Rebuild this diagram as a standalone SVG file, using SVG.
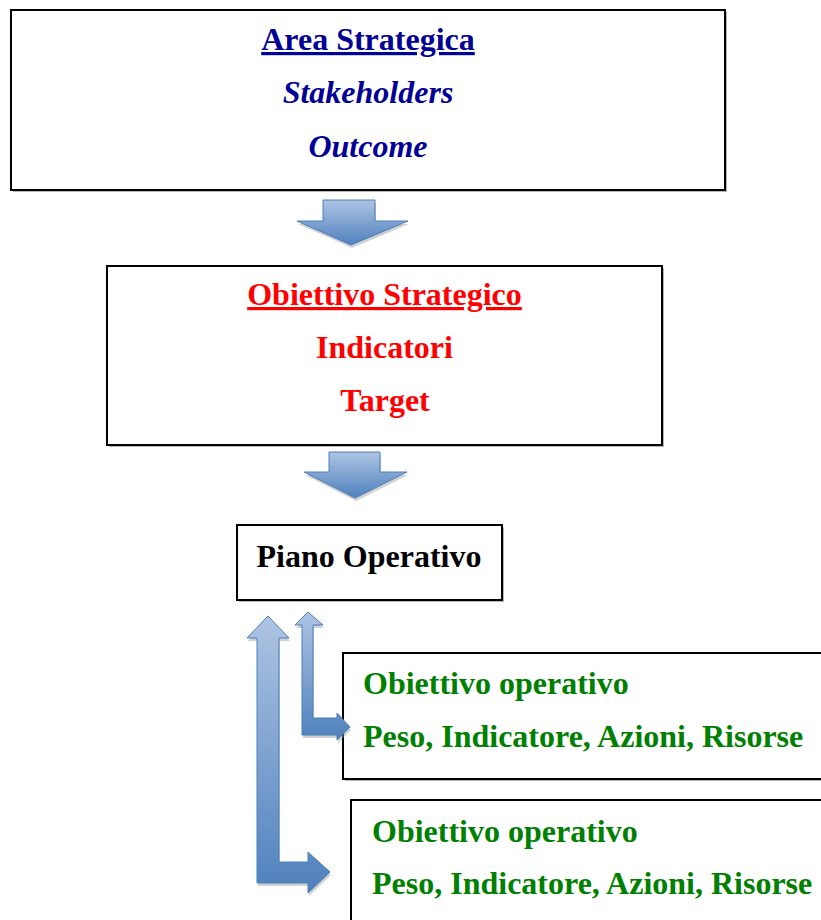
<svg xmlns="http://www.w3.org/2000/svg" width="821" height="920" viewBox="0 0 821 920">
<style>
.box{fill:#fff;stroke:#000;stroke-width:2}
.sh{fill:#b8b8b8}
.t{font-family:"Liberation Serif","Times New Roman",serif;font-weight:bold;font-size:32px;text-anchor:middle}
.tl{font-family:"Liberation Serif","Times New Roman",serif;font-weight:bold;font-size:32px}
.blue{fill:#000096}
.red{fill:#ff0000}
.green{fill:#008000}
.arr{stroke:#4a7ebb;stroke-width:1;stroke-linejoin:miter}
.ash{fill:#9a9a9a;opacity:0.45}
</style>
<defs>
<linearGradient id="g" x1="0" y1="0" x2="0" y2="1">
<stop offset="0" stop-color="#aec4e3"/>
<stop offset="1" stop-color="#4f81bd"/>
</linearGradient>
</defs>

<g id="area-strategica">
<rect class="sh" x="13" y="12" width="714" height="180"/>
<rect class="box" x="11" y="10" width="714" height="180"/>
<text class="t blue" x="368" y="50" text-decoration="underline">Area Strategica</text>
<text class="t blue" x="368" y="103" font-style="italic">Stakeholders</text>
<text class="t blue" x="368" y="157" font-style="italic">Outcome</text>
</g>

<g id="obiettivo-strategico">
<rect class="sh" x="109" y="268" width="555" height="179"/>
<rect class="box" x="107" y="266" width="555" height="179"/>
<text class="t red" x="384.5" y="305" text-decoration="underline">Obiettivo Strategico</text>
<text class="t red" x="384.5" y="358">Indicatori</text>
<text class="t red" x="385" y="411">Target</text>
</g>

<g id="piano-operativo">
<rect class="sh" x="239" y="527" width="265" height="75"/>
<rect class="box" x="237" y="525" width="265" height="75"/>
<text class="t" x="369" y="567" fill="#000">Piano Operativo</text>
</g>

<g id="obiettivo-operativo-1">
<rect class="sh" x="345" y="655" width="500" height="126"/>
<rect class="box" x="343" y="653" width="500" height="126"/>
<text class="tl green" x="363" y="694">Obiettivo operativo</text>
<text class="tl green" x="363" y="747">Peso, Indicatore, Azioni, Risorse</text>
</g>

<g id="obiettivo-operativo-2">
<rect class="sh" x="353" y="802" width="500" height="150"/>
<rect class="box" x="351" y="800" width="500" height="150"/>
<text class="tl green" x="372" y="842">Obiettivo operativo</text>
<text class="tl green" x="372" y="894">Peso, Indicatore, Azioni, Risorse</text>
</g>

<g id="connectors">
<g transform="translate(1,3)" class="ash">
<polygon points="323,200 375,200 375,221 408,221 351,245 297,221 323,221"/>
<polygon points="329,452 380,452 380,472 407,472 355,498 304,472 329,472"/>
<polygon points="308,612 323,625 313,625 313,718 337,718 337,713 350,727 337,740 337,735 302,735 302,625 295,625"/>
<polygon points="268,616 289,638 279,638 279,862 308,862 308,852 330,872 308,893 308,883 257,883 257,638 247,638"/>
</g>
<polygon class="arr" fill="url(#g)" points="323,200 375,200 375,221 408,221 351,245 297,221 323,221"/>
<polygon class="arr" fill="url(#g)" points="329,452 380,452 380,472 407,472 355,498 304,472 329,472"/>
<polygon class="arr" fill="url(#g)" points="308,612 323,625 313,625 313,718 337,718 337,713 350,727 337,740 337,735 302,735 302,625 295,625"/>
<polygon class="arr" fill="url(#g)" points="268,616 289,638 279,638 279,862 308,862 308,852 330,872 308,893 308,883 257,883 257,638 247,638"/>
</g>
</svg>
